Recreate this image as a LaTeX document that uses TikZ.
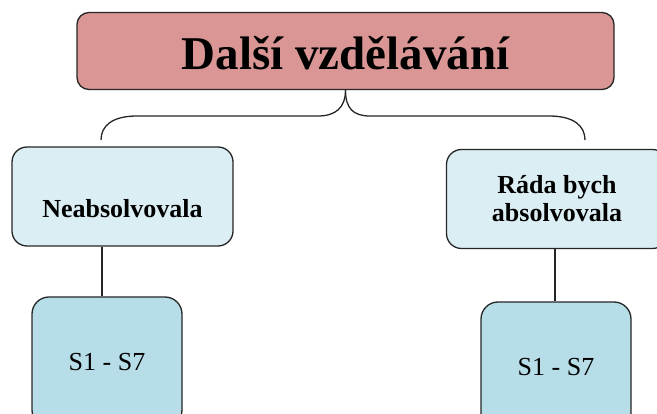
\documentclass[tikz,border=0pt]{standalone}
\usepackage{fontspec}
\setmainfont{Liberation Serif}
\definecolor{headfill}{HTML}{D99694}
\definecolor{palefill}{HTML}{DBEEF3}
\definecolor{leaffill}{HTML}{B7DDE8}
\tikzset{
  x=1pt, y=1pt,
  box/.style={draw=black!85, line width=1.3pt, rectangle, inner sep=0pt, align=center},
  headbox/.style={box, fill=headfill, rounded corners=12pt, minimum width=537pt, minimum height=77pt,
    font=\fontsize{47}{52}\selectfont\bfseries, text height=38pt, text depth=0pt},
  midbox/.style={box, fill=palefill, rounded corners=15pt, minimum width=221pt, minimum height=99pt,
    font=\fontsize{26}{28}\selectfont\bfseries},
  leafbox/.style={box, fill=leaffill, rounded corners=17pt, minimum width=150pt, minimum height=130pt,
    font=\fontsize{26}{28}\selectfont},
  link/.style={draw=black!85, line width=1.3pt},
}
\begin{document}
\begin{tikzpicture}
\useasboundingbox (0,0) rectangle (657,-414);

% boxes
\node[headbox] (head) at (345.5,-51) {Další vzdělávání};
\node[midbox, text height=42pt, text depth=0pt] (left) at (122.5,-196.5) {Neabsolvovala};
\node[midbox] (right) at (557,-199) {Ráda bych\\absolvovala};
\node[leafbox] (leftleaf) at (107,-362) {S1 - S7};
\node[leafbox] (rightleaf) at (556,-367) {S1 - S7};

% free ends of the brace
\coordinate (bl) at (101,-140);
\coordinate (br) at (585,-140);

% brace under the heading
\draw[link] (head.south) .. controls ++(0,-18) and (335,-116) .. (318,-116)
  -- (137,-116) .. controls (112,-116) and (101,-126) .. (bl);
\draw[link] (head.south) .. controls ++(0,-18) and (353,-116) .. (370,-116)
  -- (549,-116) .. controls (574,-116) and (585,-126) .. (br);

% connectors down to the leaves
\draw[link] ([xshift=-5pt]leftleaf.north) -- ([xshift=-5pt]leftleaf.north |- left.south);
\draw[link] ([xshift=-1pt]rightleaf.north) -- ([xshift=-1pt]rightleaf.north |- right.south);
\end{tikzpicture}
\end{document}
